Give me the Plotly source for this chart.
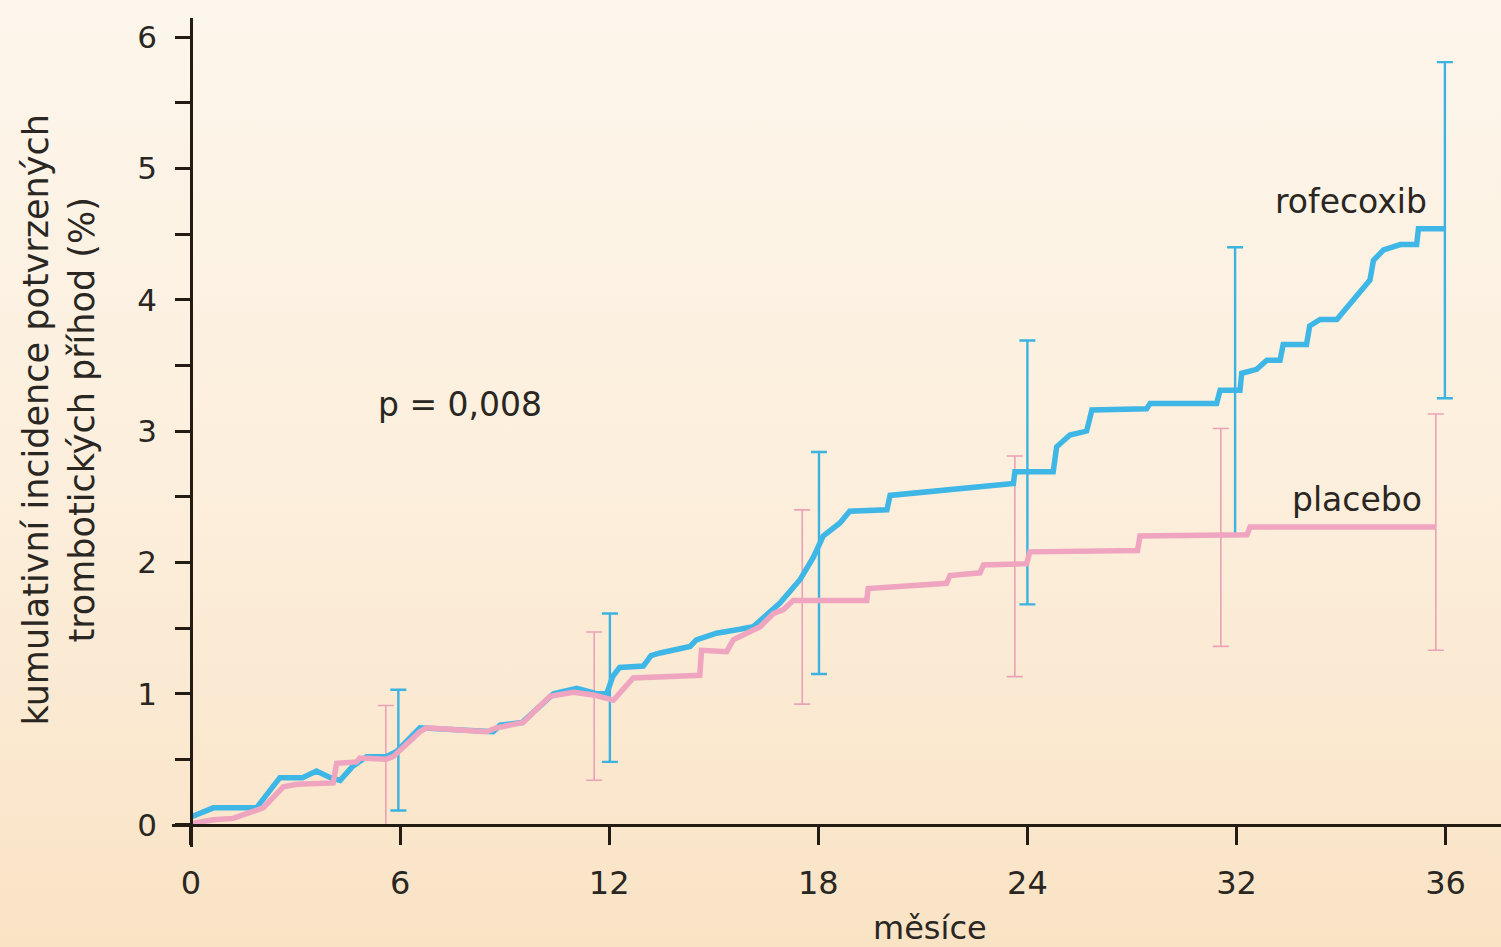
import base64
import plotly.graph_objects as go

# ---- data ----
rofe_x = [0, 0.64, 1.88, 2.55, 3.2, 3.6, 4.0, 4.28, 4.65, 5.04, 5.6, 5.9, 6.57, 8.67, 8.87, 9.5, 10.4, 11.07, 11.64, 11.93,
          12.1, 12.3, 12.98, 13.2, 13.46, 14.32, 14.5, 15.08, 15.75, 16.13, 16.9, 17.48, 17.86, 18.14, 18.62, 18.9, 19.97,
          20.06, 23.6, 23.64, 24.74, 24.84, 25.22, 25.7, 25.85, 27.42, 27.52, 29.43, 29.53, 30.1, 30.15, 30.58, 30.87,
          31.25, 31.34, 32.01, 32.1, 32.4, 32.88, 33.35, 33.83, 33.93, 34.22, 34.7, 35.17, 35.22, 35.98]
rofe_y = [0.06, 0.13, 0.13, 0.36, 0.36, 0.41, 0.36, 0.34, 0.45, 0.52, 0.52, 0.56, 0.74, 0.71, 0.76, 0.78, 1.0, 1.04, 1.0, 1.0,
          1.13, 1.2, 1.21, 1.29, 1.31, 1.36, 1.41, 1.46, 1.49, 1.51, 1.69, 1.87, 2.04, 2.2, 2.3, 2.39, 2.4,
          2.51, 2.6, 2.69, 2.69, 2.88, 2.97, 3.0, 3.16, 3.17, 3.21, 3.21, 3.31, 3.31, 3.44, 3.47, 3.54,
          3.54, 3.66, 3.66, 3.80, 3.85, 3.85, 4.0, 4.15, 4.3, 4.38, 4.42, 4.42, 4.54, 4.54]

plac_x = [0, 0.64, 1.21, 2.07, 2.65, 3.03, 4.08, 4.18, 4.75, 4.85, 5.6, 5.8, 6.57, 6.76, 8.48, 8.77, 9.53, 10.3, 10.97, 11.55,
          12.12, 12.69, 14.6, 14.65, 15.37, 15.56, 16.33, 16.71, 17.0, 17.28, 19.39, 19.43, 21.68, 21.78, 22.64, 22.74,
          23.98, 24.07, 27.16, 27.23, 30.3, 30.39, 35.72]
plac_y = [0.01, 0.04, 0.05, 0.13, 0.29, 0.31, 0.32, 0.47, 0.48, 0.51, 0.5, 0.52, 0.71, 0.74, 0.71, 0.74, 0.78, 0.98, 1.01, 0.99,
          0.95, 1.12, 1.14, 1.33, 1.32, 1.41, 1.51, 1.61, 1.64, 1.71, 1.71, 1.8, 1.84, 1.90, 1.92, 1.98,
          1.99, 2.08, 2.09, 2.2, 2.21, 2.27, 2.27]

# confidence intervals
rofe_ci_x = [5.95, 12.02, 18.02, 24.0, 29.96, 35.98]
rofe_ci_lo = [0.11, 0.48, 1.15, 1.68, 2.21, 3.25]
rofe_ci_hi = [1.03, 1.61, 2.84, 3.69, 4.40, 5.81]

plac_ci_x = [5.59, 11.57, 17.54, 23.64, 29.55, 35.72]
plac_ci_lo = [0.0, 0.34, 0.92, 1.13, 1.36, 1.33]
plac_ci_hi = [0.91, 1.47, 2.40, 2.81, 3.02, 3.13]

x_tickvals = [0, 6, 12, 18, 24, 30, 36]
x_ticktext = ["0", "6", "12", "18", "24", "32", "36"]
y_tickvals = [0, 1, 2, 3, 4, 5, 6]

BLUE = "#3FB7E6"
PINK = "#EFA5C0"
BLUE_EB = "#3BB2E0"
PINK_EB = "#E9A2B6"
TXT = "#2a2622"
AX = "#241b12"
FONT = "DejaVu Sans"

X_RANGE = [-0.545, 37.59]
Y_RANGE = [-0.168, 6.146]


def ci_trace(xs, lo, hi, color, width, thick):
    mid = [(a + b) / 2 for a, b in zip(lo, hi)]
    return go.Scatter(
        x=xs, y=mid, mode="markers",
        marker=dict(size=1, color="rgba(0,0,0,0)"),
        error_y=dict(type="data", symmetric=False,
                     array=[h - m for h, m in zip(hi, mid)],
                     arrayminus=[m - l for m, l in zip(mid, lo)],
                     color=color, thickness=thick, width=width),
        showlegend=False, hoverinfo="skip")


fig = go.Figure()
fig.add_trace(ci_trace(plac_ci_x, plac_ci_lo, plac_ci_hi, PINK_EB, 8, 1.6))
fig.add_trace(ci_trace(rofe_ci_x, rofe_ci_lo, rofe_ci_hi, BLUE_EB, 8, 2.4))
fig.add_trace(go.Scatter(x=rofe_x, y=rofe_y, mode="lines", name="rofecoxib",
                         line=dict(color=BLUE, width=5.5), showlegend=False))
fig.add_trace(go.Scatter(x=plac_x, y=plac_y, mode="lines", name="placebo",
                         line=dict(color=PINK, width=5.5), showlegend=False))

# background gradient
svg = ('<svg xmlns="http://www.w3.org/2000/svg" width="100" height="100" preserveAspectRatio="none">'
       '<defs><linearGradient id="g" x1="0" y1="0" x2="0" y2="1">'
       '<stop offset="0" stop-color="#FDF6EC"/><stop offset="0.55" stop-color="#FCEEDB"/>'
       '<stop offset="1" stop-color="#F9E3C5"/></linearGradient></defs>'
       '<rect width="100" height="100" fill="url(#g)"/></svg>')
src = "data:image/svg+xml;base64," + base64.b64encode(svg.encode()).decode()

L, R, T, B = 172, 0, 18, 100
W, H = 1501, 947
pw, ph = W - L - R, H - T - B

x_pos = (0 - X_RANGE[0]) / (X_RANGE[1] - X_RANGE[0])
y_pos = (0 - Y_RANGE[0]) / (Y_RANGE[1] - Y_RANGE[0])

fig.update_layout(
    width=W, height=H,
    margin=dict(l=L, r=R, t=T, b=B, pad=0),
    paper_bgcolor="#FCEEDC",
    plot_bgcolor="rgba(0,0,0,0)",
    font=dict(family=FONT, color=TXT),
    images=[dict(source=src, xref="paper", yref="paper",
                 x=-L / pw, y=1 + T / ph, sizex=W / pw, sizey=H / ph,
                 xanchor="left", yanchor="top", sizing="stretch", layer="below")],
    xaxis=dict(range=X_RANGE, anchor="free", position=y_pos,
               showgrid=False, zeroline=False, showline=True, linecolor=AX, linewidth=2.5,
               tickmode="array", tickvals=x_tickvals, ticktext=x_ticktext,
               ticks="outside", ticklen=18, tickwidth=2.5, tickcolor=AX,
               tickfont=dict(size=32, color=TXT, family=FONT), ticklabelstandoff=11),
    yaxis=dict(range=Y_RANGE, anchor="free", position=x_pos,
               showgrid=False, zeroline=False, showline=True, linecolor=AX, linewidth=2.5,
               tickmode="array", tickvals=y_tickvals,
               ticks="outside", ticklen=15, tickwidth=2.5, tickcolor=AX,
               minor=dict(tickmode="linear", tick0=0, dtick=0.5, ticks="outside", ticklen=15,
                          tickwidth=2.5, tickcolor=AX, showgrid=False),
               tickfont=dict(size=31, color=TXT, family=FONT), ticklabelstandoff=12),
    annotations=[
        dict(text="p = 0,008", x=7.72, y=3.2, xref="x", yref="y", showarrow=False,
             xanchor="center", yanchor="middle", font=dict(size=33, color=TXT, family=FONT)),
        dict(text="rofecoxib", x=33.3, y=4.75, xref="x", yref="y", showarrow=False,
             xanchor="center", yanchor="middle", font=dict(size=33, color=TXT, family=FONT)),
        dict(text="placebo", x=33.45, y=2.48, xref="x", yref="y", showarrow=False,
             xanchor="center", yanchor="middle", font=dict(size=33, color=TXT, family=FONT)),
        dict(text="měsíce", x=(930 - L) / pw, y=-(928 - (H - B)) / ph, xref="paper", yref="paper",
             showarrow=False, xanchor="center", yanchor="middle",
             font=dict(size=32, color=TXT, family=FONT)),
        dict(text="kumulativní incidence potvrzených<br>trombotických příhod (%)",
             x=(59 - L) / pw, y=3.08, xref="paper", yref="y", textangle=-90,
             showarrow=False, xanchor="center", yanchor="middle", align="center",
             font=dict(size=35, color=TXT, family=FONT)),
    ],
)

fig.write_html(
    "out.html",
    config={"displayModeBar": False},
    post_script="document.body.style.margin='0';document.body.style.overflow='hidden';"
                "document.body.style.background='#FCEEDC';",
)
